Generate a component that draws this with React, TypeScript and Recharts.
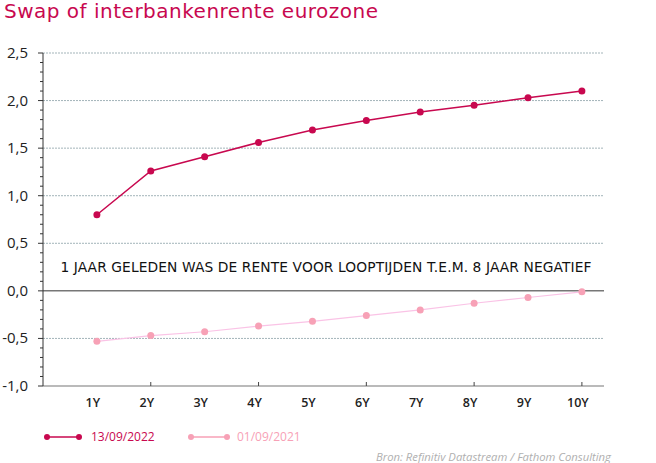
import { LineChart, Line, XAxis, YAxis, ReferenceLine } from 'recharts'

const maturities = [1, 2, 3, 4, 5, 6, 7, 8, 9, 10]
const rates2022 = [0.8, 1.26, 1.41, 1.56, 1.69, 1.79, 1.88, 1.95, 2.03, 2.1]
const rates2021 = [-0.53, -0.47, -0.43, -0.37, -0.32, -0.26, -0.2, -0.13, -0.07, -0.01]
const seriesNames = ['13/09/2022', '01/09/2021']
const gridValues = [-0.5, 0.5, 1, 1.5, 2, 2.5]
// minor ticks every 0.1, labels only on the 0.5 steps
const yTicks = Array.from({ length: 36 }, (_, i) => Math.round(-10 + i) / 10)

const title = 'Swap of interbankenrente eurozone'
const note = '1 JAAR GELEDEN WAS DE RENTE VOOR LOOPTIJDEN T.E.M. 8 JAAR NEGATIEF'
const source = 'Bron: Refinitiv Datastream / Fathom Consulting'

const DARK = '#c8084f'
const PINK_DOT = '#f7a1b6'
const PINK_LINE = '#fac3e6'

const data = maturities.map((m, i) => ({ m, a: rates2022[i], b: rates2021[i] }))

const AXIS_X = 43
const AXIS_BOTTOM = 386

function YTick(props: any) {
  const { y, payload } = props
  const v = payload.value as number
  const major = Math.abs(v * 2 - Math.round(v * 2)) < 1e-6
  return (
    <g>
      <line x1={major ? 38 : 40} x2={AXIS_X} y1={y} y2={y} stroke="#333" strokeWidth={1} />
      {major && (
        <text x={28} y={y} dy={5} textAnchor="end" fontSize={15} fontWeight={500} fill="#222" fontFamily="'Open Sans', sans-serif">
          {v.toFixed(1).replace('.', ',')}
        </text>
      )}
    </g>
  )
}

function XTick(props: any) {
  const { x, payload } = props
  const v = payload.value as number
  return (
    <g>
      {v % 2 === 0 && <line x1={x} x2={x} y1={AXIS_BOTTOM} y2={AXIS_BOTTOM - 4} stroke="#444" />}
      <text x={x - 4} y={407} textAnchor="middle" fontSize={12.5} fontWeight={600} fill="#222" fontFamily="'Open Sans', sans-serif">
        {v}Y
      </text>
    </g>
  )
}

export default function App() {
  return (
    <div style={{ position: 'absolute', left: 0, top: 0, width: 656, height: 463, background: '#fff' }}>
      <LineChart width={656} height={463} data={data} margin={{ top: 53, right: 52, bottom: 47, left: 0 }}>
        <XAxis
          dataKey="m"
          type="number"
          domain={[0, 10.41]}
          ticks={maturities}
          tickLine={false}
          axisLine={{ stroke: '#777', strokeWidth: 1.2 }}
          tick={<XTick />}
          height={30}
        />
        <YAxis
          type="number"
          domain={[-1, 2.5]}
          ticks={yTicks}
          interval={0}
          width={AXIS_X}
          tickLine={false}
          axisLine={{ stroke: '#333' }}
          tick={<YTick />}
        />
        {gridValues.map((v) => (
          <ReferenceLine key={v} y={v} stroke="#a3b4b9" strokeDasharray="2 1" />
        ))}
        <ReferenceLine y={0} stroke="#777" strokeWidth={1.5} />
        <Line
          dataKey="b"
          name={seriesNames[1]}
          stroke={PINK_LINE}
          strokeWidth={1.2}
          dot={{ r: 3.5, fill: PINK_DOT, stroke: PINK_DOT, strokeWidth: 0 }}
          isAnimationActive={false}
        />
        <Line
          dataKey="a"
          name={seriesNames[0]}
          stroke={DARK}
          strokeWidth={1.5}
          dot={{ r: 3.5, fill: DARK, stroke: DARK, strokeWidth: 0 }}
          isAnimationActive={false}
        />
      </LineChart>
      <svg width={656} height={463} style={{ position: 'absolute', left: 0, top: 0, pointerEvents: 'none' }}>
        <text x={4} y={18} fontSize={20} letterSpacing={0.5} fill={DARK} fontFamily="'DejaVu Sans', sans-serif">
          {title}
        </text>
        <text x={326} y={272} textAnchor="middle" fontSize={13.8} letterSpacing={0.1} fill="#111" fontFamily="'DejaVu Sans', sans-serif">
          {note}
        </text>
        <line x1={47} x2={79} y1={437} y2={437} stroke={DARK} strokeWidth={1.5} />
        <circle cx={47} cy={437} r={3} fill={DARK} />
        <circle cx={79} cy={437} r={3} fill={DARK} />
        <text x={91} y={441} fontSize={12} fill={DARK} fontFamily="'Open Sans', sans-serif">
          {seriesNames[0]}
        </text>
        <line x1={191} x2={227} y1={437} y2={437} stroke={PINK_DOT} strokeWidth={1.5} />
        <circle cx={191} cy={437} r={3} fill={PINK_DOT} />
        <circle cx={227} cy={437} r={3} fill={PINK_DOT} />
        <text x={237} y={441} fontSize={12} fill={PINK_DOT} fontFamily="'Open Sans', sans-serif">
          {seriesNames[1]}
        </text>
        <text x={611} y={461} textAnchor="end" fontSize={11.3} fontStyle="italic" fill="#b0b0b0" fontFamily="'Open Sans', sans-serif">
          {source}
        </text>
      </svg>
    </div>
  )
}
